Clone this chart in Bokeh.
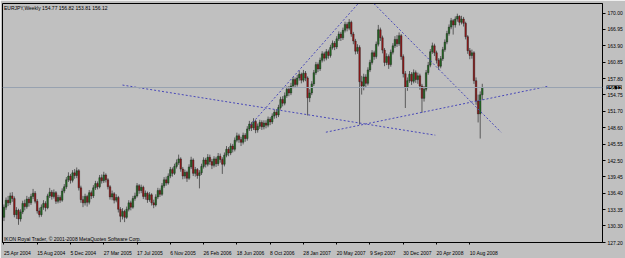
import pandas as pd
from bokeh.plotting import figure
from bokeh.layouts import row
from bokeh.models import (ColumnDataSource, FixedTicker, Label, Span, Range1d)
from bokeh.embed import file_html
from bokeh.resources import INLINE

symbol = "EURJPY,Weekly"
first_week = "2004-04-25"
copyright_text = "IKON Royal Trader, \u00a9 2001-2008 MetaQuotes Software Corp."

opens = [131.9,
 133.8,135.1,134.6,135.9,135.4,132.4,133.2,131.6,132.9,134.5,
 133.9,135.3,134.6,135.8,136.4,134.9,133.1,132.4,133.8,134.5,
 133.7,135.9,136.6,135.8,136.5,134.9,135.6,135.1,136.8,137.6,
 138.9,139.6,138.8,140.2,139.7,140.6,137.4,135.2,134.6,135.8,
 134.7,136.5,135.9,137.4,138.2,137.6,139.3,138.7,139.8,138.9,
 137.6,135.7,136.3,135.1,135.6,133.4,132.1,133.0,131.9,133.4,
 134.6,133.8,135.4,135.9,137.8,136.9,137.5,135.8,136.4,135.2,
 136.1,134.6,134.2,135.7,136.9,136.2,137.8,138.9,138.3,139.6,
 140.8,140.1,141.4,142.1,142.8,140.9,139.6,140.3,139.2,141.3,
 142.6,140.1,140.8,139.7,140.2,141.4,142.6,141.8,143.1,142.3,
 141.6,142.8,141.9,143.3,142.7,141.8,143.5,144.6,143.9,145.2,
 144.6,146.3,147.1,146.4,145.9,147.2,146.6,148.4,149.3,148.6,
 149.8,148.2,148.9,149.6,148.8,149.5,149.1,150.2,149.7,150.8,
 151.5,151.0,152.4,153.9,153.2,154.6,155.8,155.1,156.4,157.6,
 156.7,157.9,158.6,157.5,158.8,157.9,154.2,155.1,156.8,158.9,
 160.4,159.6,161.2,162.4,161.6,162.8,162.1,163.6,164.4,163.7,
 165.2,166.1,165.4,166.8,167.9,167.2,168.3,166.1,164.8,162.9,
 163.6,157.2,156.4,158.1,156.9,159.4,160.8,162.6,161.9,164.2,
 166.9,165.4,163.1,160.8,161.9,160.4,162.7,163.9,165.1,164.3,
 165.8,161.9,158.7,156.2,157.4,158.6,157.3,158.9,157.6,158.3,
 156.4,154.1,155.8,158.9,160.3,162.8,163.9,162.6,161.2,160.1,
 161.5,163.2,164.6,166.2,167.4,168.6,167.8,168.9,169.4,168.3,
 168.9,168.1,165.6,163.0,162.1,162.6,157.4,153.6,151.2,154.77]

closes = [
 133.8,135.1,134.6,135.9,135.4,132.4,133.2,131.6,132.9,134.5,
 133.9,135.3,134.6,135.8,136.4,134.9,133.1,132.4,133.8,134.5,
 133.7,135.9,136.6,135.8,136.5,134.9,135.6,135.1,136.8,137.6,
 138.9,139.6,138.8,140.2,139.7,140.6,137.4,135.2,134.6,135.8,
 134.7,136.5,135.9,137.4,138.2,137.6,139.3,138.7,139.8,138.9,
 137.6,135.7,136.3,135.1,135.6,133.4,132.1,133.0,131.9,133.4,
 134.6,133.8,135.4,135.9,137.8,136.9,137.5,135.8,136.4,135.2,
 136.1,134.6,134.2,135.7,136.9,136.2,137.8,138.9,138.3,139.6,
 140.8,140.1,141.4,142.1,142.8,140.9,139.6,140.3,139.2,141.3,
 142.6,140.1,140.8,139.7,140.2,141.4,142.6,141.8,143.1,142.3,
 141.6,142.8,141.9,143.3,142.7,141.8,143.5,144.6,143.9,145.2,
 144.6,146.3,147.1,146.4,145.9,147.2,146.6,148.4,149.3,148.6,
 149.8,148.2,148.9,149.6,148.8,149.5,149.1,150.2,149.7,150.8,
 151.5,151.0,152.4,153.9,153.2,154.6,155.8,155.1,156.4,157.6,
 156.7,157.9,158.6,157.5,158.8,157.9,154.2,155.1,156.8,158.9,
 160.4,159.6,161.2,162.4,161.6,162.8,162.1,163.6,164.4,163.7,
 165.2,166.1,165.4,166.8,167.9,167.2,168.3,166.1,164.8,162.9,
 163.6,157.2,156.4,158.1,156.9,159.4,160.8,162.6,161.9,164.2,
 166.9,165.4,163.1,160.8,161.9,160.4,162.7,163.9,165.1,164.3,
 165.8,161.9,158.7,156.2,157.4,158.6,157.3,158.9,157.6,158.3,
 156.4,154.1,155.8,158.9,160.3,162.8,163.9,162.6,161.2,160.1,
 161.5,163.2,164.6,166.2,167.4,168.6,167.8,168.9,169.4,168.3,
 168.9,168.1,165.6,163.0,162.1,162.6,157.4,153.6,151.2,154.77,156.12]

highs = [
 134.3,135.6,135.9,136.5,136.6,135.8,133.8,133.5,133.4,135.0,
 135.2,135.9,135.7,136.3,137.2,136.8,135.3,133.7,134.3,135.1,
 134.9,136.3,137.4,137.0,137.1,136.8,136.1,136.0,137.3,138.1,
 139.4,140.3,140.0,140.7,140.9,141.2,140.9,137.8,135.9,136.3,
 136.1,137.0,136.9,137.9,138.7,138.6,139.8,139.9,140.4,140.1,
 139.2,137.9,136.9,136.6,136.2,135.9,133.8,133.6,133.3,133.9,
 135.1,135.0,135.9,136.5,138.3,138.1,138.0,137.8,136.9,136.7,
 136.6,136.4,135.2,136.2,137.4,137.3,138.3,139.4,139.5,140.1,
 141.3,141.2,141.9,142.7,143.6,143.1,141.3,140.8,140.6,141.8,
 143.2,142.9,141.3,141.1,140.7,141.9,143.1,143.0,143.7,143.6,
 142.8,143.3,143.2,143.9,143.8,143.1,144.0,145.2,145.0,145.7,
 145.6,146.8,147.7,147.5,146.9,147.7,147.6,148.9,149.9,149.7,
 150.4,150.1,149.4,150.1,150.0,150.0,150.0,150.7,150.6,151.3,
 152.0,152.1,152.9,154.4,154.5,155.2,156.3,156.4,157.0,158.1,
 158.0,158.5,159.3,158.9,159.4,159.2,158.2,155.8,157.3,159.4,
 160.9,160.8,161.7,162.9,162.8,163.3,163.2,164.1,164.9,164.8,
 165.7,166.6,166.5,167.3,168.4,168.3,168.9,168.6,166.5,165.2,
 164.2,164.0,158.3,158.7,158.6,159.9,161.3,163.1,163.0,164.7,
 167.8,167.3,165.8,163.5,162.5,162.3,163.2,164.4,165.7,165.9,
 166.4,166.1,162.3,159.2,158.0,159.2,159.0,159.5,159.3,158.9,
 158.7,156.8,156.4,159.4,160.9,163.3,164.5,164.3,163.0,161.6,
 162.0,163.7,165.1,166.7,167.9,169.1,168.9,169.4,169.9,169.6,
 169.5,169.3,168.4,165.9,163.5,163.2,162.9,158.0,154.8,155.4,156.82]

lows = [
 131.2,133.3,134.0,134.2,134.8,131.9,131.6,130.5,131.1,132.5,
 133.2,133.5,133.9,134.2,135.3,134.5,132.6,131.9,132.0,133.3,
 133.0,133.4,135.5,135.2,135.4,134.4,134.5,134.6,134.8,136.4,
 137.2,138.5,138.2,138.4,139.1,139.2,136.9,134.6,133.8,134.1,
 133.9,134.3,135.3,135.5,137.0,137.1,137.3,138.2,138.3,138.4,
 137.1,135.2,135.1,134.5,134.7,132.8,131.0,131.5,131.0,131.6,
 133.0,133.2,133.5,135.0,135.6,136.3,136.4,135.3,135.2,134.6,
 134.8,134.1,133.6,133.9,135.3,135.7,135.9,137.4,137.8,138.0,
 139.2,139.5,139.8,141.0,141.7,140.4,139.0,139.1,138.5,138.9,
 140.9,139.6,139.5,139.1,137.3,139.8,141.0,141.2,141.4,141.7,
 140.9,141.2,141.3,141.5,142.1,140.0,141.4,143.1,143.3,143.5,
 144.0,144.2,145.9,145.8,145.2,145.5,146.0,146.2,148.0,148.0,
 148.2,147.6,147.7,148.4,148.2,148.3,148.5,148.7,149.1,149.3,
 150.3,150.4,150.6,152.0,152.6,152.8,154.2,154.5,154.7,156.0,
 156.1,156.3,157.4,156.9,157.1,157.3,150.9,153.4,154.7,156.4,
 158.5,159.0,159.2,160.8,161.0,161.2,161.5,161.7,163.2,163.1,
 163.3,164.8,164.8,165.0,166.4,166.6,166.8,165.6,164.2,162.3,
 162.4,149.2,154.8,155.6,156.2,156.5,159.0,160.4,161.3,161.5,
 163.8,164.8,162.5,160.1,160.3,159.6,160.0,162.3,163.5,163.7,
 163.9,161.3,158.0,152.3,155.5,157.0,156.6,156.9,157.0,156.8,
 155.7,151.4,153.5,155.4,158.5,159.9,162.4,162.0,160.6,159.4,
 159.7,161.1,162.8,164.2,165.8,167.0,166.0,167.3,168.4,167.7,
 167.9,167.5,165.1,162.4,161.4,161.5,156.8,152.9,149.6,146.6,153.81]

date_labels = ["25 Apr 2004", "15 Aug 2004", "5 Dec 2004", "27 Mar 2005", "17 Jul 2005",
               "6 Nov 2005", "26 Feb 2006", "18 Jun 2006", "8 Oct 2006", "28 Jan 2007",
               "20 May 2007", "9 Sep 2007", "30 Dec 2007", "20 Apr 2008", "10 Aug 2008"]

price_ticks = [170.00, 166.95, 163.90, 160.85, 157.80, 154.75, 151.70, 148.60,
               145.55, 142.50, 139.45, 136.40, 133.35, 130.30, 127.20]

# hand-drawn trend lines: (bar index, price) start and end
trend_x0 = [57.0, 118.4, 173.9, 154.8]
trend_y0 = [156.58, 149.05, 173.35, 147.78]
trend_x1 = [207.4, 173.9, 239.0, 261.5]
trend_y1 = [147.23, 173.35, 147.78, 156.34]

# ---------------------------------------------------------------
n = len(closes)
weeks = pd.date_range(first_week, periods=n, freq="7D")
idx = list(range(n))
up = [c >= o for o, c in zip(opens, closes)]
src = ColumnDataSource(dict(
    x=idx, open=opens, close=closes, high=highs, low=lows,
    top=[max(o, c) for o, c in zip(opens, closes)],
    bottom=[min(o, c) for o, c in zip(opens, closes)],
    color=["#237023" if u else "#9a1818" for u in up],
))

BG = "#c0c0c0"
FONT = "Liberation Sans"
FSPX = 5
FS = f"{FSPX}px"
X0, X1 = -0.7, 287.8
FRAME_W = 603.0
RIGHT_W = 20

yr = Range1d(127.2, 171.8)
fig = figure(width=625, height=258, x_range=Range1d(X0, X1), y_range=yr,
             y_axis_location="right", toolbar_location=None, output_backend="svg",
             background_fill_color=BG, border_fill_color=BG, outline_line_color="black",
             min_border_left=2, min_border_top=3, min_border_right=RIGHT_W,
             min_border_bottom=10)
fig.xgrid.visible = False
fig.ygrid.visible = False

# current price line
last_close = closes[-1]
fig.add_layout(Span(location=last_close, dimension="width", line_color="#98a2b0", line_width=1))

# candles
fig.segment(x0="x", y0="low", x1="x", y1="high", source=src, line_color="#5a5a5a", line_width=1)
fig.vbar(x="x", width=0.75, top="top", bottom="bottom", source=src,
         fill_color="color", line_color="#1a1a1a", line_width=0.4)

# trend lines
fig.segment(x0=trend_x0, y0=trend_y0, x1=trend_x1, y1=trend_y1,
            line_color="#4848b8", line_width=1, line_dash="2 2")

# bottom axis: labels left-aligned on their bar (MetaTrader style)
ARIAL = {"0": .556, "1": .556, "2": .556, "3": .556, "4": .556, "5": .556, "6": .556,
         "7": .556, "8": .556, "9": .556, " ": .278, "A": .667, "p": .556, "r": .333,
         "u": .556, "g": .556, "D": .722, "e": .556, "c": .5, "M": .833, "a": .556,
         "J": .5, "l": .222, "N": .667, "o": .556, "v": .5, "F": .611, "b": .556,
         "n": .556, "O": .778, "t": .278, "y": .5, "S": .667}
px_per_bar = FRAME_W / (X1 - X0)
tick_pos = [int(weeks.get_loc(pd.Timestamp(d))) for d in date_labels]
label_pos = [t + (sum(ARIAL.get(ch, .556) for ch in d) * FSPX / 2.0) / px_per_bar
             for t, d in zip(tick_pos, date_labels)]
xa = fig.xaxis[0]
xa.ticker = FixedTicker(ticks=label_pos, minor_ticks=tick_pos)
xa.major_label_overrides = {t: lab for t, lab in zip(label_pos, date_labels)}
xa.major_label_text_font = FONT
xa.major_label_text_font_size = FS
xa.major_label_text_color = "black"
xa.major_label_standoff = 1
xa.major_tick_line_color = None
xa.minor_tick_line_color = "black"
xa.minor_tick_out = 2
xa.minor_tick_in = 0
xa.axis_line_color = "black"

ya = fig.yaxis[0]
ya.ticker = FixedTicker(ticks=price_ticks)
ya.major_label_overrides = {t: f"{t:.2f}" for t in price_ticks}
ya.major_label_text_font = FONT
ya.major_label_text_font_size = FS
ya.major_label_text_color = "black"
ya.major_label_standoff = 2
ya.major_tick_out = 3
ya.major_tick_in = 0
ya.minor_tick_line_color = None
ya.axis_line_color = "black"

# texts
title = f"{symbol}  {opens[-1]:.2f} {highs[-1]:.2f} {lows[-1]:.2f} {closes[-1]:.2f}"
fig.add_layout(Label(x=0, y=171.8, text=title, text_font=FONT, text_font_size=FS,
                     text_color="black", text_baseline="top", y_offset=-1))
fig.add_layout(Label(x=0, y=127.2, text=copyright_text, text_font=FONT, text_font_size=FS,
                     text_color="black", text_baseline="bottom", y_offset=1))

# transparent strip laid over the price scale, carrying the current-price tag
tag = figure(width=RIGHT_W, height=258, x_range=Range1d(0, RIGHT_W), y_range=yr,
             x_axis_location=None, y_axis_location=None, toolbar_location=None,
             output_backend="svg", background_fill_alpha=0, border_fill_alpha=0,
             outline_line_color=None, min_border_left=0, min_border_right=0,
             min_border_top=3, min_border_bottom=10)
tag.xgrid.visible = False
tag.ygrid.visible = False
tag.margin = (0, 0, 0, -RIGHT_W)
tag.add_layout(Label(x=1, y=last_close, text=f"{last_close:.2f}", text_font=FONT,
                     text_font_size=FS, text_color="white", text_baseline="middle",
                     background_fill_color="black"))

p = row(fig, tag, spacing=0)
open("out.html", "w").write(file_html(p, INLINE))
